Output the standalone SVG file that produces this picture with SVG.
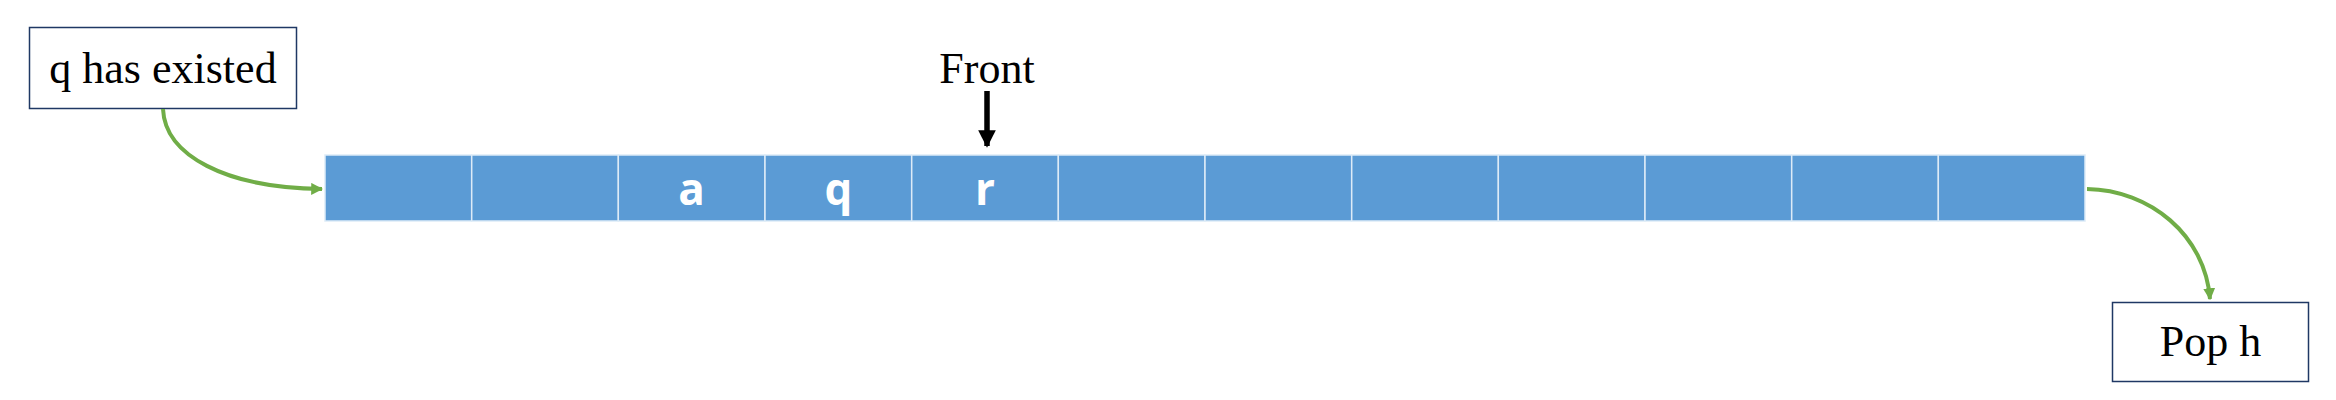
<svg xmlns="http://www.w3.org/2000/svg" width="2336" height="400" viewBox="0 0 2336 400">
<style>
.box{fill:#ffffff;stroke:#1F3864;stroke-width:1.5}
.lbl{font-family:"Liberation Serif","Times New Roman",serif;font-size:44px;fill:#000000;text-anchor:middle}
.cell{fill:#5B9BD5;stroke:#DDEBF7;stroke-width:1.5}
.val{font-family:"Open Sans","Noto Sans",sans-serif;font-weight:700;font-size:44px;fill:#ffffff;text-anchor:middle}
.green{fill:none;stroke:#70AD47;stroke-width:4}
</style>
<defs>
<marker id="ga" viewBox="0 0 10 10" refX="9" refY="5" markerWidth="3" markerHeight="3" markerUnits="strokeWidth" orient="auto">
<path d="M0,0 L10,5 L0,10 Z" fill="#70AD47"/>
</marker>
<marker id="ba" viewBox="0 0 10 10" refX="9" refY="5" markerWidth="3.2" markerHeight="3.2" markerUnits="strokeWidth" orient="auto">
<path d="M0,0 L10,5 L0,10 Z" fill="#000000"/>
</marker>
</defs>
<g id="node-q-has-existed">
<rect class="box" x="29.5" y="27.5" width="267" height="81"/>
<text class="lbl" x="163" y="83">q has existed</text>
</g>
<g id="node-array">
<rect class="cell" x="325" y="155" width="146.7" height="66"/>
<rect class="cell" x="471.7" y="155" width="146.7" height="66"/>
<rect class="cell" x="618.3" y="155" width="146.7" height="66"/>
<rect class="cell" x="765" y="155" width="146.7" height="66"/>
<rect class="cell" x="911.7" y="155" width="146.7" height="66"/>
<rect class="cell" x="1058.3" y="155" width="146.7" height="66"/>
<rect class="cell" x="1205" y="155" width="146.7" height="66"/>
<rect class="cell" x="1351.7" y="155" width="146.7" height="66"/>
<rect class="cell" x="1498.3" y="155" width="146.7" height="66"/>
<rect class="cell" x="1645" y="155" width="146.7" height="66"/>
<rect class="cell" x="1791.7" y="155" width="146.7" height="66"/>
<rect class="cell" x="1938.3" y="155" width="146.7" height="66"/>
<text class="val" x="691.5" y="205">a</text>
<text class="val" x="838.3" y="205">q</text>
<text class="val" x="985" y="205">r</text>
</g>
<g id="node-front">
<text class="lbl" x="987" y="83">Front</text>
</g>
<g id="node-pop-h">
<rect class="box" x="2112.5" y="302.5" width="196" height="79"/>
<text class="lbl" x="2210.5" y="356">Pop h</text>
</g>
<g id="connectors">
<path class="green" d="M163,109 C165,155 225,188 322,189" marker-end="url(#ga)"/>
<path class="green" d="M2087,189 C2150,190 2205,235 2210,299" marker-end="url(#ga)"/>
<path d="M987,91 L987,146" stroke="#000000" stroke-width="5.5" fill="none" marker-end="url(#ba)"/>
</g>
</svg>
